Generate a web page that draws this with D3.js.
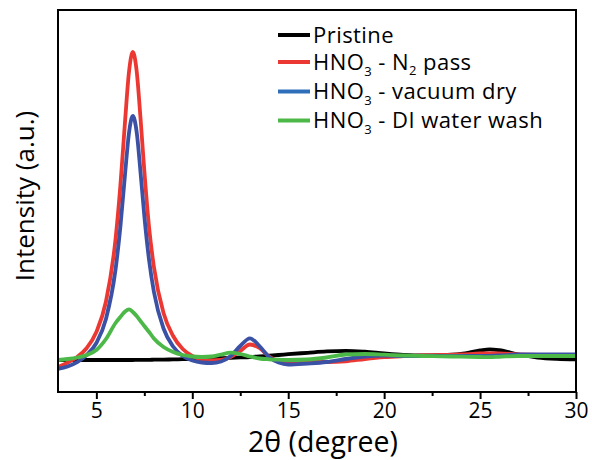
<!DOCTYPE html>
<html>
<head>
<meta charset="utf-8">
<script src="https://cdn.jsdelivr.net/npm/d3@7/dist/d3.min.js"></script>
<style>
  html, body { margin: 0; padding: 0; background: #fff; }
  svg { display: block; }
  text { font-family: "Open Sans", "DejaVu Sans", sans-serif; fill: #000; }
</style>
</head>
<body>
<svg id="chart" width="592" height="460"></svg>
<script>
// ---- data ----
const twoTheta = [3, 3.5, 4, 4.5, 5, 5.5, 6, 6.25, 6.5, 6.7, 6.9, 7.1, 7.3, 7.5, 7.75, 8, 8.5, 9, 9.5, 10,
  10.5, 11, 11.5, 12, 12.5, 13, 13.5, 14, 14.5, 15, 16, 17, 18, 19, 20, 21, 22, 23, 24, 25, 25.5, 26, 27, 28, 29, 30];

const pristine = [32, 32, 32, 32, 32, 32, 32, 32, 32, 32, 32, 32.1, 32.1, 32.2, 32.2, 32.3, 32.4, 32.6, 32.8, 33,
  33.2, 33.5, 33.8, 34.2, 34.6, 35, 35.6, 36.3, 37, 37.8, 39.2, 40.6, 41.2, 40.3, 38.6, 37.2, 36.6, 36.8, 38, 41.5, 42.7, 41.8, 37.5, 34.5, 33.2, 32.7];

const n2Pass = [25, 29.4, 35, 44, 60, 90.5, 153, 206, 272, 320, 340, 321, 274, 221, 164, 125, 79, 56, 43, 36,
  32.5, 31.5, 32, 35, 41, 47.5, 44, 35.5, 31, 29.5, 30, 30, 30.7, 33, 34.8, 35.8, 36.5, 37, 37.5, 38.5, 38.7, 38.5, 37.7, 37.2, 37, 37];

const vacuumDry = [23, 25.5, 29.8, 37, 49, 73, 122.5, 165, 219, 259, 276, 260, 220, 176, 131.5, 100, 63.5, 45.5, 36, 31.5,
  29.5, 29, 30.5, 36, 46, 53.7, 46, 35, 29.5, 27.5, 28.5, 30, 33, 35.5, 36.5, 36, 36, 36, 36, 36, 36.2, 36.5, 37.5, 37.7, 37.7, 37.7];

const diWash = [32, 33, 34.5, 37, 42, 53, 69, 75, 80.5, 82.7, 80, 76, 71, 66, 60, 53.5, 45, 40, 37, 35.5,
  35, 35.5, 37.5, 39.3, 38, 35.5, 33.5, 32.7, 32.3, 32, 32.5, 34.5, 37.5, 38, 37.3, 36.5, 36, 35.7, 35.3, 35, 34.8, 35.2, 36, 36, 36, 36];

const seriesNames = ["Pristine", "HNO3 - N2 pass", "HNO3 - vacuum dry", "HNO3 - DI water wash"];
const seriesColors = ["#000000", "#ec3832", "#3a51a6", "#4cb848"];
const legendColors = ["#000000", "#ec3832", "#2f6eb8", "#4cb848"];
const xTicks = [5, 10, 15, 20, 25, 30];
const xMinorTicks = [7.5, 12.5, 17.5, 22.5, 27.5];
const xDomain = [3, 30];
const yDomain = [0, 382];

// ---- layout ----
const svg = d3.select("#chart");
const mLeft = 58, mRight = 576, mTop = 10, mBottom = 392;

const x = d3.scaleLinear().domain(xDomain).range([mLeft, mRight]);
const y = d3.scaleLinear().domain(yDomain).range([mBottom, mTop]);

const allSeries = [pristine, n2Pass, vacuumDry, diWash];

const line = d3.line()
  .x(d => x(d[0]))
  .y(d => y(d[1]))
  .curve(d3.curveMonotoneX);

svg.append("clipPath").attr("id", "clip")
  .append("rect").attr("x", mLeft).attr("y", mTop).attr("width", mRight - mLeft).attr("height", mBottom - mTop);

const plot = svg.append("g").attr("clip-path", "url(#clip)");
allSeries.forEach((vals, i) => {
  plot.append("path")
    .datum(twoTheta.map((t, j) => [t, vals[j]]))
    .attr("fill", "none")
    .attr("stroke", seriesColors[i])
    .attr("stroke-width", 3.8)
    .attr("stroke-linejoin", "round")
    .attr("d", line);
});

// frame
svg.append("rect")
  .attr("x", mLeft).attr("y", mTop)
  .attr("width", mRight - mLeft).attr("height", mBottom - mTop)
  .attr("fill", "none").attr("stroke", "#000").attr("stroke-width", 2);

// x axis
const xAxis = d3.axisBottom(x).tickValues(xTicks).tickSize(7).tickPadding(4).tickFormat(d3.format("d"));
const gx = svg.append("g").attr("transform", `translate(0,${mBottom})`).call(xAxis);
gx.select(".domain").remove();
gx.selectAll(".tick line").attr("stroke", "#000").attr("stroke-width", 2);
gx.selectAll(".tick text").attr("font-size", 21).attr("font-family", "'Open Sans', sans-serif").attr("fill", "#000");

const xMinor = d3.axisBottom(x).tickValues(xMinorTicks).tickSize(4).tickFormat("");
const gxm = svg.append("g").attr("transform", `translate(0,${mBottom})`).call(xMinor);
gxm.select(".domain").remove();
gxm.selectAll(".tick line").attr("stroke", "#000").attr("stroke-width", 2);

// axis titles
svg.append("text")
  .attr("x", 323).attr("y", 452)
  .attr("text-anchor", "middle").attr("font-size", 28.5)
  .text("2θ (degree)");

svg.append("text")
  .attr("transform", `translate(34,196) rotate(-90)`)
  .attr("text-anchor", "middle").attr("font-size", 26)
  .text("Intensity (a.u.)");

// legend
const legendRowsY = [35, 62, 91.5, 120.5];
const leg = svg.append("g");
seriesNames.forEach((name, i) => {
  const yy = legendRowsY[i];
  leg.append("line")
    .attr("x1", 278).attr("x2", 310).attr("y1", yy).attr("y2", yy)
    .attr("stroke", legendColors[i]).attr("stroke-width", 4);
  const t = leg.append("text").attr("x", 313).attr("y", yy + 7.5)
    .attr("font-size", 22).attr("letter-spacing", 0.45);
  if (i === 0) {
    t.text(name);
  } else {
    const rest = name.replace("HNO3 - ", "");
    t.append("tspan").text("HNO");
    t.append("tspan").attr("font-size", 13).attr("dy", 6).text("3");
    if (rest === "N2 pass") {
      t.append("tspan").attr("dy", -6).text(" - N");
      t.append("tspan").attr("font-size", 13).attr("dy", 5).text("2");
      t.append("tspan").attr("dy", -5).text(" pass");
    } else {
      t.append("tspan").attr("dy", -6).text(" - " + rest);
    }
  }
});
</script>
</body>
</html>
